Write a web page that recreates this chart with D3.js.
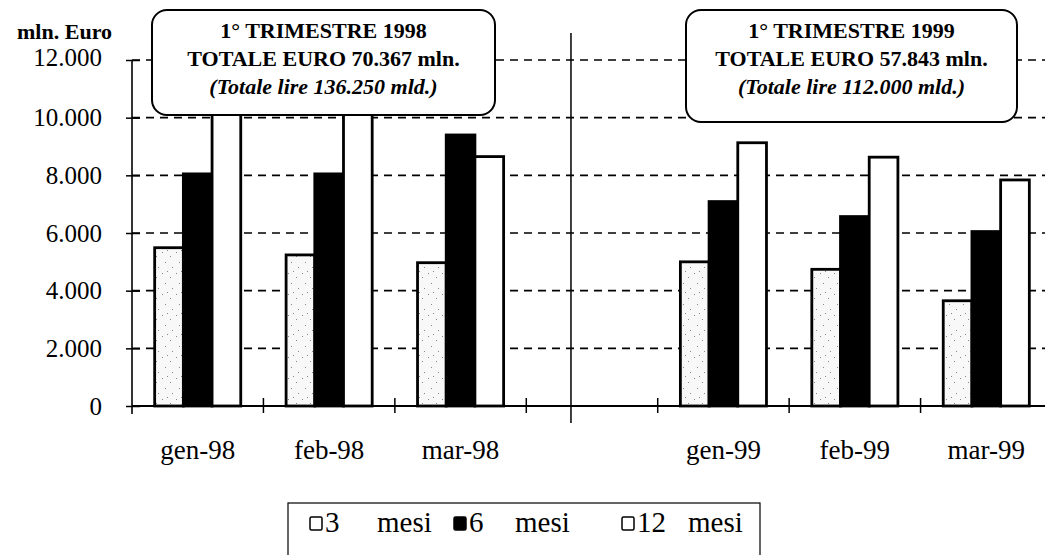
<!DOCTYPE html>
<html>
<head>
<meta charset="utf-8">
<script src="https://cdn.jsdelivr.net/npm/d3@7"></script>
<style>
body { margin: 0; background: #fff; }
svg text { font-family: "Liberation Serif", "Times New Roman", serif; fill: #000; }
</style>
</head>
<body>
<svg id="chart" width="1045" height="555"></svg>
<script>
// data (mln. Euro)
var categories = ["gen-98", "feb-98", "mar-98", "", "gen-99", "feb-99", "mar-99"];
var series = ["3 mesi", "6 mesi", "12 mesi"];
var tre = [5490, 5240, 4970, null, 5000, 4740, 3650];
var sei = [8050, 8050, 9400, null, 7090, 6570, 6050];
var dodici = [10400, 10300, 8650, null, 9130, 8630, 7840];
var yTicks = [0, 2000, 4000, 6000, 8000, 10000, 12000];
var yTickLabels = ["0", "2.000", "4.000", "6.000", "8.000", "10.000", "12.000"];
var box98 = ["1° TRIMESTRE 1998", "TOTALE EURO 70.367 mln.", "(Totale lire 136.250 mld.)"];
var box99 = ["1° TRIMESTRE 1999", "TOTALE EURO 57.843 mln.", "(Totale lire 112.000 mld.)"];
var legendNums = ["3", "6", "12"];

var margin = {top: 60, left: 132};
var width = 920;
var height = 346;

var svg = d3.select('#chart');

// speckled fill used for the 3 mesi bars
var pat = svg.append('defs').append('pattern')
  .attr('id', 'speckle')
  .attr('patternUnits', 'userSpaceOnUse')
  .attr('width', 14).attr('height', 21);
pat.append('rect').attr('width', 14).attr('height', 21).attr('fill', '#f8f8f8');
[[2, 3], [10, 7], [5, 13], [12, 18], [7, 1]].forEach(function(p) {
  pat.append('rect').attr('x', p[0]).attr('y', p[1]).attr('width', 1).attr('height', 1).attr('fill', '#888');
});

var g = svg.append('g')
  .attr('transform', 'translate(' + margin.left + ',' + margin.top + ')');

var x = d3.scaleBand().domain(categories).range([0, width]);
var x1 = d3.scaleBand().domain(series).range([0, x.bandwidth()]).paddingOuter(0.79);
var y = d3.scaleLinear().domain([0, 12000]).range([height, 0]);

// dashed gridlines
g.append('g').selectAll('line')
  .data(yTicks.filter(function(d) { return d > 0; }))
  .enter().append('line')
  .attr('x1', 0).attr('x2', width)
  .attr('y1', function(d) { return y(d); })
  .attr('y2', function(d) { return y(d); })
  .attr('stroke', '#000').attr('stroke-width', 1.6)
  .attr('stroke-dasharray', '8,6');

// bars
var values = [tre, sei, dodici];
var fills = ['url(#speckle)', '#000', '#fff'];
series.forEach(function(s, si) {
  g.append('g').selectAll('rect')
    .data(categories.map(function(c, i) { return {c: c, v: values[si][i]}; })
      .filter(function(d) { return d.v != null; }))
    .enter().append('rect')
    .attr('x', function(d) { return x(d.c) + x1(s); })
    .attr('width', x1.bandwidth())
    .attr('y', function(d) { return y(d.v); })
    .attr('height', function(d) { return height - y(d.v); })
    .attr('fill', fills[si])
    .attr('stroke', '#000')
    .attr('stroke-width', 2.8);
});

// y axis
var yAxis = d3.axisLeft(y)
  .tickValues(yTicks)
  .tickFormat(function(d, i) { return yTickLabels[i]; })
  .tickSize(6)
  .tickPadding(24);
var ya = g.append('g').call(yAxis);
ya.select('.domain').remove();
ya.selectAll('.tick line').attr('x1', -6).attr('x2', 8).attr('stroke-width', 1.5);
ya.selectAll('.tick text')
  .style('font-size', '25px')
  .attr('dy', function(d) { return d === 12000 ? '0.22em' : '0.32em'; });
g.append('line')
  .attr('x1', 0).attr('x2', 0)
  .attr('y1', y(12000)).attr('y2', height + 8)
  .attr('stroke', '#000').attr('stroke-width', 1.6);

// x axis
g.append('line')
  .attr('x1', 0).attr('x2', width)
  .attr('y1', height).attr('y2', height)
  .attr('stroke', '#000').attr('stroke-width', 1.8);
g.append('g').selectAll('line')
  .data(categories.slice(1))
  .enter().append('line')
  .attr('x1', function(d) { return x(d); })
  .attr('x2', function(d) { return x(d); })
  .attr('y1', height - 8).attr('y2', height + 7)
  .attr('stroke', '#000').attr('stroke-width', 1.5);

var xa = g.append('g')
  .attr('transform', 'translate(0,' + height + ')')
  .call(d3.axisBottom(x).tickSize(0).tickPadding(34));
xa.select('.domain').remove();
xa.selectAll('.tick text').style('font-size', '27px');

// divider between the two quarters
var divX = x(categories[3]) + x.bandwidth() * 0.34;
g.append('line')
  .attr('x1', divX).attr('x2', divX)
  .attr('y1', -27).attr('y2', height + 17)
  .attr('stroke', '#000').attr('stroke-width', 1.5);

// title boxes
function titleBox(lines, bx, bw, bh) {
  var b = svg.append('g');
  b.append('rect')
    .attr('x', bx).attr('y', 10).attr('width', bw).attr('height', bh)
    .attr('rx', 15).attr('ry', 15)
    .attr('fill', '#fff').attr('stroke', '#000').attr('stroke-width', 2);
  b.selectAll('text').data(lines).enter().append('text')
    .attr('x', bx + bw / 2)
    .attr('y', function(d, i) { return 38 + i * 28; })
    .attr('text-anchor', 'middle')
    .style('font-size', '22px')
    .style('font-weight', 'bold')
    .style('font-style', function(d, i) { return i === 2 ? 'italic' : 'normal'; })
    .text(function(d) { return d; });
}
titleBox(box98, 152, 343, 105);
titleBox(box99, 686, 331, 112);

svg.append('text')
  .attr('x', 112).attr('y', 39)
  .attr('text-anchor', 'end')
  .style('font-size', '22px').style('font-weight', 'bold')
  .text('mln. Euro');

// legend
var leg = svg.append('g');
leg.append('rect')
  .attr('x', 288).attr('y', 503).attr('width', 472).attr('height', 70)
  .attr('fill', '#fff').attr('stroke', '#000').attr('stroke-width', 1.2);
var legX = [310, 454, 622];
var legWordDx = [67, 61, 66];
var legFill = ['#fff', '#000', '#fff'];
series.forEach(function(s, i) {
  leg.append('rect')
    .attr('x', legX[i]).attr('y', 517).attr('width', 12).attr('height', 13)
    .attr('rx', 1.5)
    .attr('fill', legFill[i]).attr('stroke', '#000').attr('stroke-width', 1.5);
  var t = leg.append('text')
    .attr('y', 532)
    .style('font-size', '29px');
  t.append('tspan').attr('x', legX[i] + 15).text(legendNums[i]);
  t.append('tspan').attr('x', legX[i] + legWordDx[i]).text('mesi');
});
</script>
</body>
</html>
